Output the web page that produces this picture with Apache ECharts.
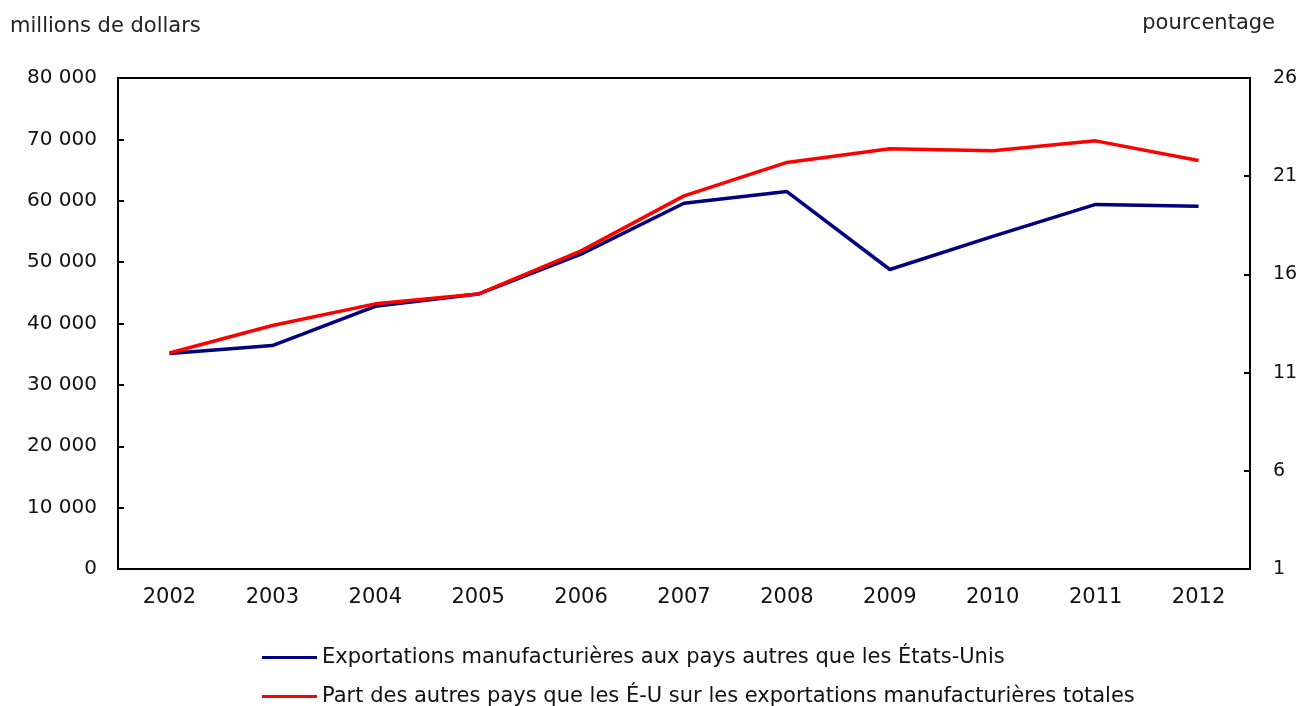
<!DOCTYPE html>
<html lang="fr">

<head>
    <meta charset="UTF-8">
    <title>Exportations manufacturières</title>
    <style>
        html,
        body {
            margin: 0;
            padding: 0;
            background: #fff;
        }
    </style>
</head>

<body>
    <div id="main" style="width: 1302px;height:706px;"></div>
    <script src="https://cdn.jsdelivr.net/npm/echarts@6/dist/echarts.min.js"></script>
    <script type="text/javascript">
        var years = ['2002', '2003', '2004', '2005', '2006', '2007', '2008', '2009', '2010', '2011', '2012'];
        // millions de dollars
        var exportsOther = [35100, 36400, 42800, 44800, 51300, 59600, 61500, 48800, 54200, 59400, 59100];
        // pourcentage
        var shareOther = [12.0, 13.4, 14.5, 15.0, 17.2, 20.0, 21.7, 22.4, 22.3, 22.8, 21.8];
        var nameExports = 'Exportations manufacturières aux pays autres que les États-Unis';
        var nameShare = 'Part des autres pays que les É-U sur les exportations manufacturières totales';

        var font = 'DejaVu Sans';
        var myChart = echarts.init(document.getElementById('main'));
        var option = {
            animation: false,
            textStyle: { fontFamily: font },
            title: [{
                text: 'millions de dollars',
                left: 10, top: 16, padding: 0,
                textStyle: { fontSize: 21, fontWeight: 'normal', color: '#222', fontFamily: font }
            }, {
                text: 'pourcentage',
                right: 27, top: 13, padding: 0,
                textStyle: { fontSize: 21, fontWeight: 'normal', color: '#222', fontFamily: font }
            }],
            grid: {
                left: 118, right: 52, top: 78, bottom: 137,
                show: true, borderColor: '#000', borderWidth: 2
            },
            legend: {
                orient: 'vertical',
                left: 262, top: 647, height: 64,
                padding: 0,
                itemWidth: 55, itemHeight: 3, itemGap: 18,
                icon: 'rect',
                textStyle: { fontSize: 21, color: '#111', fontFamily: font },
                data: [nameExports, nameShare]
            },
            xAxis: {
                type: 'category',
                data: years,
                boundaryGap: true,
                axisLine: { lineStyle: { color: '#000', width: 2 } },
                axisTick: { inside: true, length: 8, lineStyle: { color: '#000', width: 2 } },
                axisLabel: { color: '#111', fontSize: 21, margin: 18 }
            },
            yAxis: [{
                type: 'value',
                min: 0, max: 80000, interval: 10000,
                splitLine: { show: false },
                axisLine: { show: true, lineStyle: { color: '#000', width: 2 } },
                axisTick: { show: true, inside: true, length: 6, lineStyle: { color: '#000', width: 2 } },
                axisLabel: {
                    color: '#111', fontSize: 20, margin: 21,
                    formatter: function (v) { return String(v).replace(/\B(?=(\d{3})+(?!\d))/g, ' '); }
                }
            }, {
                type: 'value',
                min: 1, max: 26, interval: 5,
                position: 'right',
                splitLine: { show: false },
                axisLine: { show: true, lineStyle: { color: '#000', width: 2 } },
                axisTick: { show: true, inside: true, length: 6, lineStyle: { color: '#000', width: 2 } },
                axisLabel: { color: '#111', fontSize: 19, margin: 23 }
            }],
            series: [{
                name: nameExports,
                type: 'line',
                data: exportsOther,
                yAxisIndex: 0,
                symbol: 'none',
                color: '#000080',
                lineStyle: { color: '#000080', width: 3.5 }
            }, {
                name: nameShare,
                type: 'line',
                data: shareOther,
                yAxisIndex: 1,
                symbol: 'none',
                color: '#ff0000',
                lineStyle: { color: '#ff0000', width: 3.5 }
            }]
        };
        myChart.setOption(option);
    </script>
</body>

</html>
